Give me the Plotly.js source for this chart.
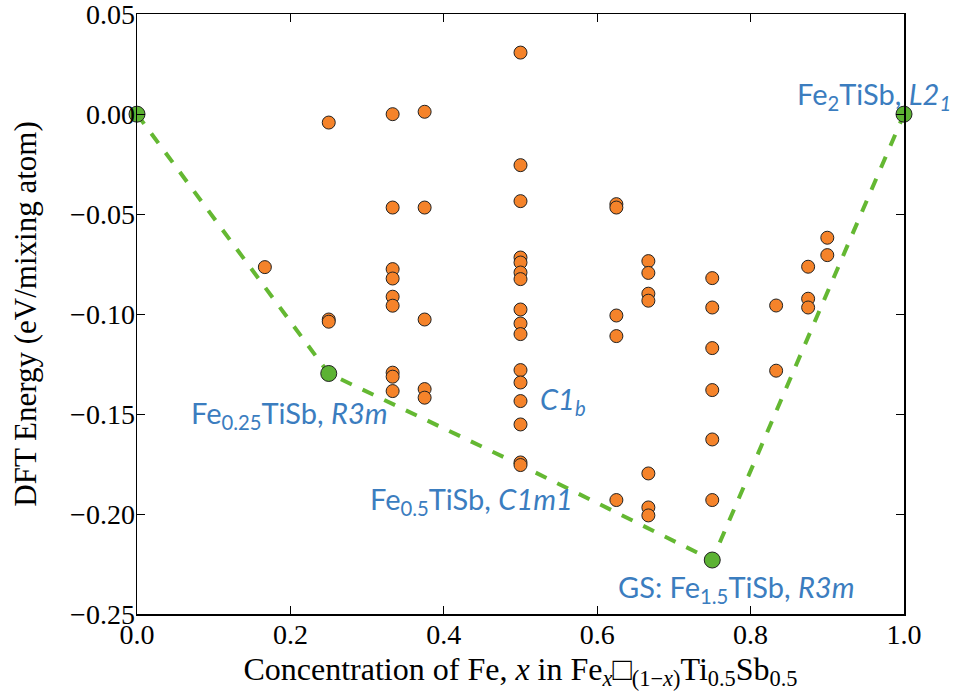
<!DOCTYPE html>
<html>
<head>
<meta charset="utf-8">
<script src="https://cdn.plot.ly/plotly-3.0.1.min.js"></script>
<style>html,body{margin:0;padding:0;background:#fff;}#chart{width:958px;height:698px;}</style>
</head>
<body>
<div id="chart"></div>
<script>
// Orange: all computed configurations
const configX = [
  0.1667,
  0.25, 0.25, 0.25,
  0.3333, 0.3333, 0.3333, 0.3333, 0.3333, 0.3333, 0.3333, 0.3333, 0.3333,
  0.375, 0.375, 0.375, 0.375, 0.375,
  0.5, 0.5, 0.5, 0.5, 0.5, 0.5, 0.5, 0.5, 0.5, 0.5, 0.5, 0.5, 0.5, 0.5, 0.5, 0.5,
  0.625, 0.625, 0.625, 0.625, 0.625,
  0.6667, 0.6667, 0.6667, 0.6667, 0.6667, 0.6667, 0.6667,
  0.75, 0.75, 0.75, 0.75, 0.75, 0.75,
  0.8333, 0.8333,
  0.875, 0.875, 0.875,
  0.9, 0.9
];
const configE = [
  -0.0765,
  -0.0042, -0.1027, -0.1038,
  0.0000, -0.0467, -0.0775, -0.0822, -0.0913, -0.0958, -0.1293, -0.1313, -0.1385,
  0.0012, -0.0467, -0.1027, -0.1375, -0.1418,
  0.0308, -0.0255, -0.0435, -0.0717, -0.0742, -0.0792, -0.0825, -0.0977, -0.1047, -0.1100, -0.1280, -0.1342, -0.1435, -0.1552, -0.1742, -0.1755,
  -0.0450, -0.0467, -0.1007, -0.1110, -0.1930,
  -0.0735, -0.0794, -0.0898, -0.0933, -0.1797, -0.1967, -0.2007,
  -0.0820, -0.0967, -0.1170, -0.1380, -0.1627, -0.1930,
  -0.0957, -0.1283,
  -0.0763, -0.0923, -0.0967,
  -0.0618, -0.0705
];
// Convex hull (dashed line)
const hullX = [0.0, 0.25, 0.5, 0.75, 1.0];
const hullE = [0.0, -0.1297, -0.1755, -0.223, 0.0];
// Green: ground-state structures on the hull
const gsX = [0.0, 0.25, 0.75, 1.0];
const gsE = [0.0, -0.1297, -0.223, 0.0];
// Labels
const labelText = [
  "Fe<sub>2</sub>TiSb, <i>L2<sub>1</sub></i>",
  "Fe<sub>0.25</sub>TiSb, <i>R3m</i>",
  "<i>C1<sub>b</sub></i>",
  "Fe<sub>0.5</sub>TiSb, <i>C1m1</i>",
  "GS: Fe<sub>1.5</sub>TiSb, <i>R3m</i>"
];
const labelX = [0.858, 0.068, 0.523, 0.3016, 0.6245];
const labelY = [0.0095, -0.1500, -0.1430, -0.1930, -0.2373];
// Tick values
const xTicks = [0, 0.2, 0.4, 0.6, 0.8, 1.0];
const yTicks = [-0.25, -0.2, -0.15, -0.1, -0.05, 0, 0.05];

const serif = "Liberation Serif";
const blue = "#3b7dbf";

const traces = [
  {x: hullX, y: hullE, mode: "lines", type: "scatter",
   line: {color: "#64b832", width: 4, dash: "dash"}, hoverinfo: "skip", showlegend: false},
  {x: configX, y: configE, mode: "markers", type: "scatter",
   marker: {color: "#f5832a", size: 13, line: {color: "#222", width: 1}}, showlegend: false},
  {x: gsX, y: gsE, mode: "markers", type: "scatter", cliponaxis: false,
   marker: {color: "#5cb233", size: 16, line: {color: "#222", width: 1}}, showlegend: false}
];

const annotations = labelText.map((t, i) => ({
  x: labelX[i], y: labelY[i], xref: "x", yref: "y", text: t, showarrow: false,
  xanchor: "left", yanchor: "middle",
  font: {family: "Lato", size: 29, color: blue}
}));

const layout = {
  width: 958, height: 698,
  margin: {l: 137, r: 54, t: 14, b: 84},
  paper_bgcolor: "#fff", plot_bgcolor: "#fff",
  showlegend: false,
  xaxis: {
    range: [0, 1], tickvals: xTicks, tickformat: ".1f",
    ticks: "inside", ticklen: 8, tickwidth: 1, tickcolor: "#000",
    showline: true, linecolor: "#000", linewidth: 1.5, mirror: "allticks",
    showgrid: false, zeroline: false, ticklabelstandoff: -5, ticklabeloverflow: "allow",
    tickfont: {family: serif, size: 28, color: "#000"},
    title: {text: "Concentration of Fe, <i>x</i> in Fe<sub><i>x</i></sub>□<sub>(1−<i>x</i>)</sub>Ti<sub>0.5</sub>Sb<sub>0.5</sub>",
            font: {family: serif, size: 32, color: "#000"}, standoff: 8}
  },
  yaxis: {
    range: [-0.25, 0.0501], tickvals: yTicks, tickformat: ".2f",
    ticks: "inside", ticklen: 8, tickwidth: 1, tickcolor: "#000",
    showline: true, linecolor: "#000", linewidth: 1.5, mirror: "allticks",
    showgrid: false, zeroline: false, ticklabelstandoff: -5, ticklabeloverflow: "allow",
    tickfont: {family: serif, size: 28, color: "#000"},
    title: {text: "DFT Energy (eV/mixing atom)", font: {family: serif, size: 31, color: "#000"}, standoff: 24}
  },
  annotations: annotations
};

Plotly.newPlot("chart", traces, layout, {displayModeBar: false, staticPlot: true});
</script>
</body>
</html>
